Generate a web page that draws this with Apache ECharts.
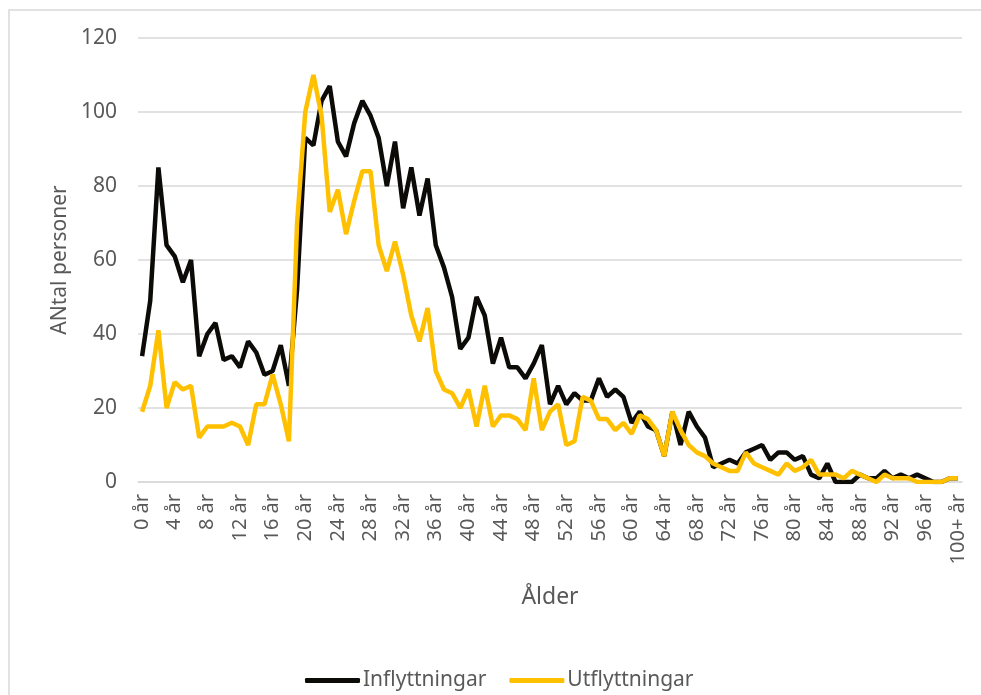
<!DOCTYPE html>
<html>
<head>
<meta charset="utf-8">
<title>Flyttningar efter ålder</title>
<script src="https://cdn.jsdelivr.net/npm/echarts@6/dist/echarts.min.js"></script>
<style>
  html, body { margin: 0; padding: 0; background: #fff; }
  #main { width: 981px; height: 695px; }
</style>
</head>
<body>
<div id="main"></div>
<script>
 // ålder 0 .. 99 år, sedan 100+ år
 var alder = [];
 for (var a = 0; a < 100; a++) {
     alder.push(a + ' år');
 }
 alder.push('100+ år');

 var inflyttningar = [34, 49, 85, 64, 61, 54, 60, 34, 40, 43,
     33, 34, 31, 38, 35, 29, 30, 37, 26, 52,
     93, 91, 103, 107, 92, 88, 97, 103, 99, 93,
     80, 92, 74, 85, 72, 82, 64, 58, 50, 36,
     39, 50, 45, 32, 39, 31, 31, 28, 32, 37,
     21, 26, 21, 24, 22, 22, 28, 23, 25, 23,
     16, 19, 15, 14, 7, 19, 10, 19, 15, 12,
     4, 5, 6, 5, 8, 9, 10, 6, 8, 8,
     6, 7, 2, 1, 5, 0, 0, 0, 2, 1,
     1, 3, 1, 2, 1, 2, 1, 0, 0, 1,
     1];

 var utflyttningar = [19, 26, 41, 20, 27, 25, 26, 12, 15, 15,
     15, 16, 15, 10, 21, 21, 29, 21, 11, 70,
     100, 110, 99, 73, 79, 67, 76, 84, 84, 64,
     57, 65, 56, 45, 38, 47, 30, 25, 24, 20,
     25, 15, 26, 15, 18, 18, 17, 14, 28, 14,
     19, 21, 10, 11, 23, 22, 17, 17, 14, 16,
     13, 18, 17, 14, 7, 19, 14, 10, 8, 7,
     5, 4, 3, 3, 8, 5, 4, 3, 2, 5,
     3, 4, 6, 2, 2, 2, 1, 3, 2, 1,
     0, 2, 1, 1, 1, 0, 0, 0, 0, 1,
     1];

 var yTicks = [0, 120, 20]; // min, max, steg

 var textColor = '#595959';
 var gridColor = '#d9d9d9';
 var font = 'Noto Sans';

 var chart = echarts.init(document.getElementById('main'), null, { renderer: 'canvas' });

 var option = {
     backgroundColor: '#fff',
     animation: false,
     textStyle: { fontFamily: font },
     graphic: [{
         type: 'rect',
         shape: { x: 9, y: 10, width: 1000, height: 720 },
         style: { fill: 'none', stroke: gridColor, lineWidth: 1.5 },
         silent: true
     }],
     grid: {
         left: 138,
         right: 19,
         top: 38,
         bottom: 213
     },
     legend: {
         left: 300,
         top: 665,
         icon: 'roundRect',
         itemWidth: 55,
         itemHeight: 5,
         itemGap: 23,
         textStyle: { color: textColor, fontSize: 21, fontFamily: font, padding: [0, 0, 0, -2] },
         data: ['Inflyttningar', 'Utflyttningar']
     },
     xAxis: {
         type: 'category',
         data: alder,
         boundaryGap: true,
         name: 'Ålder',
         nameLocation: 'middle',
         nameGap: 104,
         nameTextStyle: { color: textColor, fontSize: 23, fontFamily: font },
         axisLine: { lineStyle: { color: gridColor, width: 1.5 } },
         axisTick: { show: false },
         axisLabel: {
             interval: 3,
             rotate: 90,
             margin: 12,
             color: textColor,
             fontSize: 20,
             fontFamily: font
         }
     },
     yAxis: {
         type: 'value',
         min: yTicks[0],
         max: yTicks[1],
         interval: yTicks[2],
         name: 'ANtal personer',
         nameLocation: 'middle',
         nameGap: 66,
         nameTextStyle: { color: textColor, fontSize: 21, fontFamily: font },
         axisLine: { show: false },
         axisTick: { show: false },
         axisLabel: { color: textColor, fontSize: 21, margin: 21, fontFamily: font },
         splitLine: { lineStyle: { color: gridColor, width: 1.5 } }
     },
     series: [{
         name: 'Inflyttningar',
         type: 'line',
         data: inflyttningar,
         symbol: 'none',
         color: '#0d0b08',
         lineStyle: { width: 4.5 }
     }, {
         name: 'Utflyttningar',
         type: 'line',
         data: utflyttningar,
         symbol: 'none',
         color: '#FFC000',
         lineStyle: { width: 4.5 }
     }]
 };

 chart.setOption(option);
</script>
</body>
</html>
